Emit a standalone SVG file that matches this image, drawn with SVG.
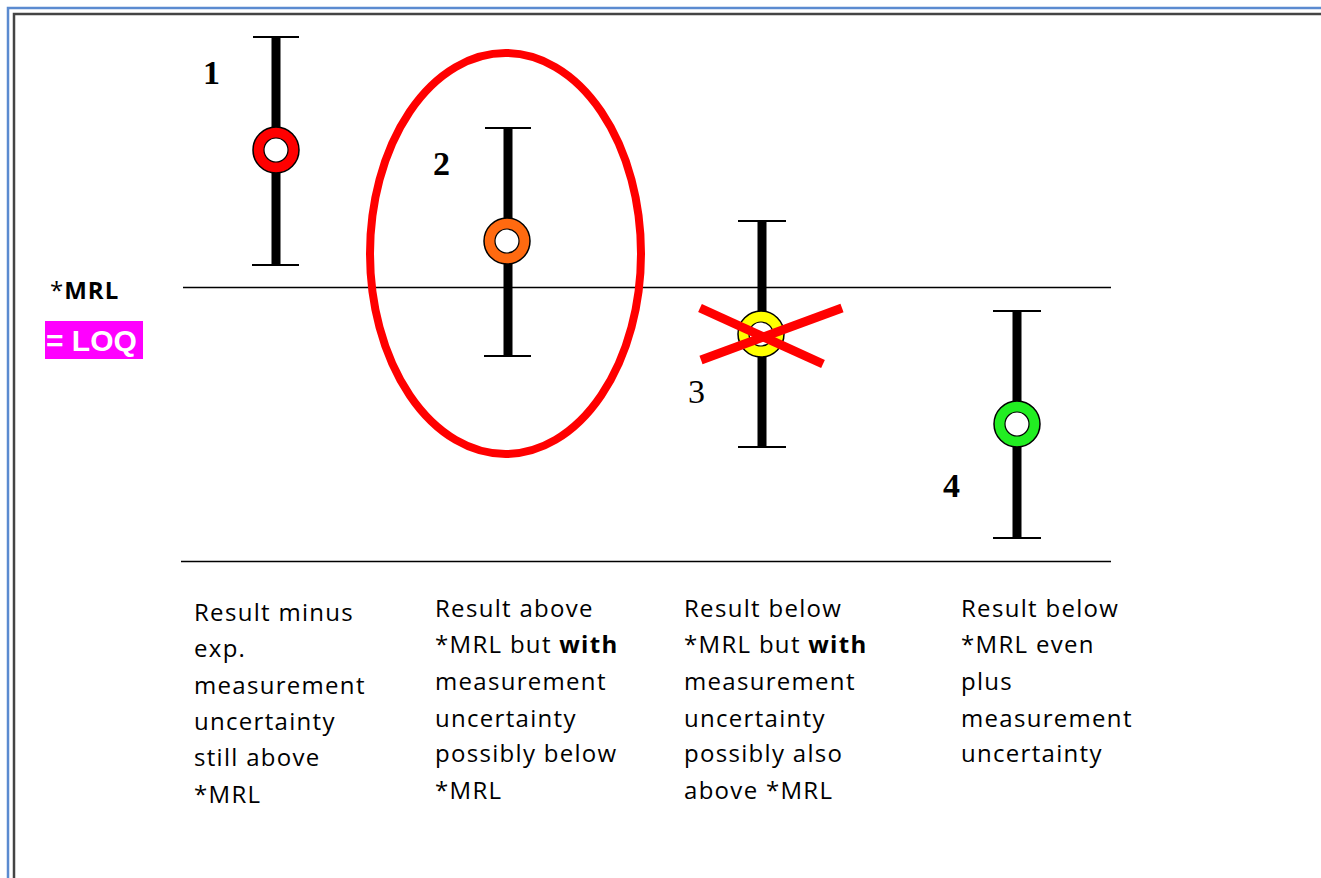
<svg xmlns="http://www.w3.org/2000/svg" width="1321" height="878" viewBox="0 0 1321 878">
  <style>
    .frame-outer { fill: none; stroke: #5b8bd0; stroke-width: 2.5; }
    .frame-inner { fill: none; stroke: #444444; stroke-width: 2.5; }
    .axis { stroke: #000000; stroke-width: 1.6; }
    .bar { stroke: #000000; stroke-width: 9; }
    .cap { stroke: #000000; stroke-width: 2; }
    .ring { stroke: #000000; stroke-width: 1.5; }
    .hole { fill: #ffffff; stroke: #000000; stroke-width: 1.2; }
    .num { font-family: "Liberation Serif", "Times New Roman", serif; font-size: 34px; fill: #000000; }
    .desc { font-family: "Open Sans", "Noto Sans", sans-serif; font-size: 24px; fill: #000000; letter-spacing: 1.3px; }
    .mark { stroke: #ff0000; fill: none; }
  </style>

  <rect x="0" y="0" width="1321" height="878" fill="#ffffff"/>

  <!-- page frame (double rule) -->
  <rect class="frame-outer" x="8" y="8" width="1330" height="900"/>
  <rect class="frame-inner" x="14" y="14" width="1330" height="900"/>

  <!-- reference lines -->
  <g id="connectors">
    <line class="axis" x1="183" y1="287.5" x2="1111" y2="287.5"/>
    <line class="axis" x1="181" y1="561.5" x2="1111" y2="561.5"/>
  </g>

  <!-- MRL / LOQ label -->
  <g id="label-mrl">
    <text x="50" y="299" font-family="Open Sans, Noto Sans, sans-serif" font-size="24px" letter-spacing="1px" fill="#000"><tspan>*</tspan><tspan font-weight="bold">MRL</tspan></text>
    <rect x="45" y="321" width="98" height="38" fill="#ff00ff"/>
    <text x="46" y="351" font-family="Liberation Sans, Arial, sans-serif" font-size="30px" font-weight="bold" fill="#ffffff">= LOQ</text>
  </g>

  <!-- result 1 -->
  <g id="result-1">
    <line class="bar" x1="276" y1="37" x2="276" y2="265"/>
    <line class="cap" x1="253" y1="37" x2="299" y2="37"/>
    <line class="cap" x1="252" y1="265" x2="299" y2="265"/>
    <circle class="ring" cx="276" cy="150" r="23" fill="#ff0000"/>
    <circle class="hole" cx="276" cy="150" r="12"/>
    <text class="num" x="203" y="84" font-weight="bold">1</text>
  </g>

  <!-- result 2 -->
  <g id="result-2">
    <line class="bar" x1="508" y1="128" x2="508" y2="356"/>
    <line class="cap" x1="485" y1="128" x2="531" y2="128"/>
    <line class="cap" x1="484" y1="356" x2="531" y2="356"/>
    <circle class="ring" cx="507" cy="241" r="23" fill="#ff6a10"/>
    <circle class="hole" cx="507" cy="241" r="12"/>
    <text class="num" x="433" y="175" font-weight="bold">2</text>
    <ellipse class="mark" cx="505.5" cy="253.5" rx="135.5" ry="200.5" stroke-width="8"/>
  </g>

  <!-- result 3 -->
  <g id="result-3">
    <line class="bar" x1="762" y1="221" x2="762" y2="447"/>
    <line class="cap" x1="738" y1="221" x2="786" y2="221"/>
    <line class="cap" x1="738" y1="447" x2="786" y2="447"/>
    <circle class="ring" cx="761" cy="334" r="23" fill="#ffff00"/>
    <circle class="hole" cx="761" cy="334" r="12"/>
    <text class="num" x="688" y="403">3</text>
    <line class="mark" x1="700" y1="308" x2="823" y2="364" stroke-width="9"/>
    <line class="mark" x1="701" y1="360" x2="842" y2="308" stroke-width="9"/>
  </g>

  <!-- result 4 -->
  <g id="result-4">
    <line class="bar" x1="1017" y1="311" x2="1017" y2="538"/>
    <line class="cap" x1="993" y1="311" x2="1041" y2="311"/>
    <line class="cap" x1="993" y1="538" x2="1041" y2="538"/>
    <circle class="ring" cx="1017" cy="424" r="23" fill="#22ee22"/>
    <circle class="hole" cx="1017" cy="424" r="12"/>
    <text class="num" x="943" y="497" font-weight="bold">4</text>
  </g>

  <!-- explanatory captions -->
  <g id="caption-1">
    <text class="desc" x="194" y="621">Result minus</text>
    <text class="desc" x="194" y="657">exp.</text>
    <text class="desc" x="194" y="694">measurement</text>
    <text class="desc" x="194" y="730">uncertainty</text>
    <text class="desc" x="194" y="766">still above</text>
    <text class="desc" x="194" y="803">*MRL</text>
  </g>
  <g id="caption-2">
    <text class="desc" x="435" y="617">Result above</text>
    <text class="desc" x="435" y="653">*MRL but <tspan font-weight="bold">with</tspan></text>
    <text class="desc" x="435" y="690">measurement</text>
    <text class="desc" x="435" y="727">uncertainty</text>
    <text class="desc" x="435" y="762">possibly below</text>
    <text class="desc" x="435" y="799">*MRL</text>
  </g>
  <g id="caption-3">
    <text class="desc" x="684" y="617">Result below</text>
    <text class="desc" x="684" y="653">*MRL but <tspan font-weight="bold">with</tspan></text>
    <text class="desc" x="684" y="690">measurement</text>
    <text class="desc" x="684" y="727">uncertainty</text>
    <text class="desc" x="684" y="762">possibly also</text>
    <text class="desc" x="684" y="799">above *MRL</text>
  </g>
  <g id="caption-4">
    <text class="desc" x="961" y="617">Result below</text>
    <text class="desc" x="961" y="653">*MRL even</text>
    <text class="desc" x="961" y="690">plus</text>
    <text class="desc" x="961" y="727">measurement</text>
    <text class="desc" x="961" y="762">uncertainty</text>
  </g>
</svg>
